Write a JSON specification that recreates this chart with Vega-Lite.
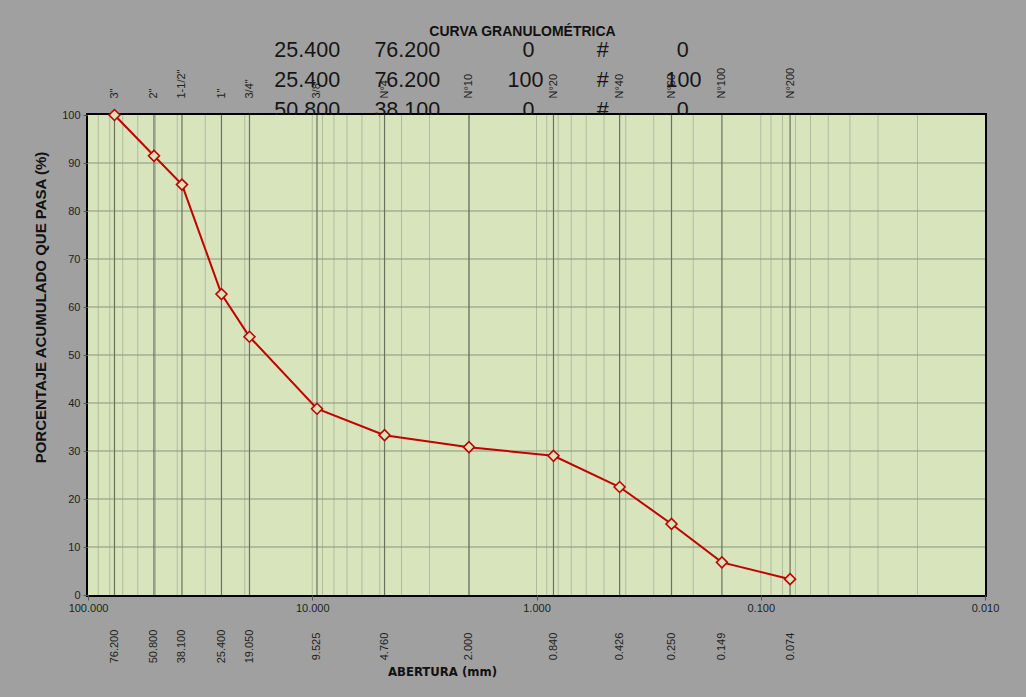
{
  "$schema": "https://vega.github.io/schema/vega-lite/v6.json",
  "width": 897,
  "height": 480,
  "autosize": {"type": "none"},
  "padding": {"left": 88, "top": 115, "right": 41, "bottom": 102},
  "background": "#a0a0a0",
  "view": {"stroke": "#000000", "strokeWidth": 4},
  "config": {"font": "Liberation Sans"},
  "datasets": {
    "sieves": [
      {"tamiz": "3\"", "abertura": 76.2, "pasa": 100},
      {"tamiz": "2\"", "abertura": 50.8, "pasa": 91.5},
      {"tamiz": "1-1/2\"", "abertura": 38.1, "pasa": 85.5},
      {"tamiz": "1\"", "abertura": 25.4, "pasa": 62.7},
      {"tamiz": "3/4\"", "abertura": 19.05, "pasa": 53.8},
      {"tamiz": "3/8\"", "abertura": 9.525, "pasa": 38.8},
      {"tamiz": "N°4", "abertura": 4.76, "pasa": 33.3},
      {"tamiz": "N°10", "abertura": 2.0, "pasa": 30.8},
      {"tamiz": "N°20", "abertura": 0.84, "pasa": 29.0},
      {"tamiz": "N°40", "abertura": 0.426, "pasa": 22.5},
      {"tamiz": "N°60", "abertura": 0.25, "pasa": 14.8},
      {"tamiz": "N°100", "abertura": 0.149, "pasa": 6.8},
      {"tamiz": "N°200", "abertura": 0.074, "pasa": 3.3}
    ],
    "minor": [
      {"d": 90}, {"d": 80}, {"d": 70}, {"d": 60}, {"d": 50}, {"d": 40}, {"d": 30}, {"d": 20}, {"d": 10},
      {"d": 9}, {"d": 8}, {"d": 7}, {"d": 6}, {"d": 5}, {"d": 4}, {"d": 3}, {"d": 2}, {"d": 1},
      {"d": 0.9}, {"d": 0.8}, {"d": 0.7}, {"d": 0.6}, {"d": 0.5}, {"d": 0.4}, {"d": 0.3}, {"d": 0.2}, {"d": 0.1},
      {"d": 0.09}, {"d": 0.08}, {"d": 0.07}, {"d": 0.06}, {"d": 0.05}, {"d": 0.04}, {"d": 0.03}, {"d": 0.02}
    ],
    "hgrid": [
      {"p": 10}, {"p": 20}, {"p": 30}, {"p": 40}, {"p": 50}, {"p": 60}, {"p": 70}, {"p": 80}, {"p": 90}
    ],
    "overlap": [
      {"t": "25.400", "x": 10.53, "y": 113.3},
      {"t": "76.200", "x": 3.77, "y": 113.3},
      {"t": "0", "x": 1.086, "y": 113.3},
      {"t": "#", "x": 0.507, "y": 113.3},
      {"t": "0", "x": 0.223, "y": 113.3},
      {"t": "25.400", "x": 10.53, "y": 107.1},
      {"t": "76.200", "x": 3.77, "y": 107.1},
      {"t": "100", "x": 1.12, "y": 107.1},
      {"t": "#", "x": 0.507, "y": 107.1},
      {"t": "100", "x": 0.221, "y": 107.1},
      {"t": "50.800", "x": 10.53, "y": 100.9},
      {"t": "38.100", "x": 3.77, "y": 100.9},
      {"t": "0", "x": 1.086, "y": 100.9},
      {"t": "#", "x": 0.507, "y": 100.9},
      {"t": "0", "x": 0.223, "y": 100.9}
    ]
  },
  "resolve": {"axis": {"x": "independent", "y": "independent"}},
  "layer": [
    {
      "data": {"name": "overlap"},
      "mark": {"type": "text", "fontSize": 21.5, "font": "Liberation Sans", "color": "#151515", "baseline": "middle", "align": "center"},
      "encoding": {
        "x": {"field": "x", "type": "quantitative", "scale": {"type": "log", "domain": [100, 0.01], "nice": false, "zero": false}, "axis": null},
        "y": {"field": "y", "type": "quantitative", "scale": {"domain": [0, 100], "nice": false, "zero": false}, "axis": null},
        "text": {"field": "t"}
      }
    },
    {
      "data": {"values": [{}]},
      "mark": {"type": "rect", "fill": "#d8e4bc"},
      "encoding": {
        "x": {"datum": 100, "type": "quantitative", "scale": {"type": "log", "domain": [100, 0.01], "nice": false, "zero": false},
          "axis": {"orient": "bottom", "values": [100, 10, 1, 0.1, 0.01], "format": ".3f", "labelFlush": false, "labelOverlap": false,
            "labelFontSize": 11, "labelColor": "#222222", "tickSize": 5, "tickColor": "#555555", "labelPadding": 2,
            "domain": false, "grid": false, "title": null}},
        "x2": {"datum": 0.01},
        "y": {"datum": 0, "type": "quantitative", "scale": {"domain": [0, 100], "nice": false, "zero": false},
          "axis": {"orient": "left", "values": [0, 10, 20, 30, 40, 50, 60, 70, 80, 90, 100], "title": "PORCENTAJE ACUMULADO QUE PASA (%)",
            "titleX": -48, "titleY": 192, "titleAngle": -90, "titleAlign": "center", "titleBaseline": "middle",
            "titleFontSize": 15, "titleFontWeight": "bold", "titleColor": "#111111",
            "labelFontSize": 11, "labelColor": "#222222", "tickSize": 5, "tickColor": "#555555", "labelPadding": 3,
            "domain": false, "grid": false, "labelFlush": false, "labelOverlap": false}},
        "y2": {"datum": 100}
      }
    },
    {
      "data": {"name": "minor"},
      "mark": {"type": "rule", "stroke": "#b2bba2", "strokeWidth": 1},
      "encoding": {
        "x": {"field": "d", "type": "quantitative", "scale": {"type": "log", "domain": [100, 0.01], "nice": false, "zero": false}, "axis": null}
      }
    },
    {
      "data": {"name": "hgrid"},
      "mark": {"type": "rule", "stroke": "#8a9480", "strokeWidth": 1},
      "encoding": {
        "y": {"field": "p", "type": "quantitative", "scale": {"domain": [0, 100], "nice": false, "zero": false}, "axis": null}
      }
    },
    {
      "data": {"name": "sieves"},
      "mark": {"type": "rule", "stroke": "#66725c", "strokeWidth": 1.2},
      "encoding": {
        "x": {"field": "abertura", "type": "quantitative", "scale": {"type": "log", "domain": [100, 0.01], "nice": false, "zero": false},
          "axis": {"orient": "top", "values": [76.2, 50.8, 38.1, 25.4, 19.05, 9.525, 4.76, 2, 0.84, 0.426, 0.25, 0.149, 0.074],
            "labelExpr": "datum.value == 76.2 ? '3\"' : datum.value == 50.8 ? '2\"' : datum.value == 38.1 ? '1-1/2\"' : datum.value == 25.4 ? '1\"' : datum.value == 19.05 ? '3/4\"' : datum.value == 9.525 ? '3/8\"' : datum.value == 4.76 ? 'N°4' : datum.value == 2 ? 'N°10' : datum.value == 0.84 ? 'N°20' : datum.value == 0.426 ? 'N°40' : datum.value == 0.25 ? 'N°60' : datum.value == 0.149 ? 'N°100' : 'N°200'",
            "labelAngle": -90, "labelAlign": "left", "labelBaseline": "middle", "labelPadding": 17, "ticks": false, "tickSize": 0,
            "domain": false, "grid": false, "labelFontSize": 11, "labelColor": "#222222", "labelFlush": false, "labelOverlap": false,
            "title": "CURVA GRANULOMÉTRICA", "titleX": 434, "titleY": -80, "titleAlign": "center", "titleBaseline": "alphabetic",
            "titleAngle": 0, "titleFontSize": 14, "titleFontWeight": "bold", "titleColor": "#111111"}}
      }
    },
    {
      "data": {"name": "sieves"},
      "mark": {"type": "line", "color": "#c00000", "strokeWidth": 2,
        "point": {"shape": "diamond", "filled": true, "fill": "#d8e4bc", "stroke": "#c00000", "strokeWidth": 1.6, "size": 120}},
      "encoding": {
        "x": {"field": "abertura", "type": "quantitative", "scale": {"type": "log", "domain": [100, 0.01], "nice": false, "zero": false},
          "axis": {"orient": "bottom", "values": [76.2, 50.8, 38.1, 25.4, 19.05, 9.525, 4.76, 2, 0.84, 0.426, 0.25, 0.149, 0.074],
            "format": ".3f", "labelAngle": -90, "labelAlign": "center", "labelBaseline": "middle", "labelPadding": 51,
            "ticks": false, "tickSize": 0, "domain": false, "grid": false, "labelFontSize": 11, "labelColor": "#222222",
            "labelFlush": false, "labelOverlap": false,
            "title": "ABERTURA (mm)", "titleX": 354, "titleY": 80, "titleAlign": "center", "titleBaseline": "alphabetic",
            "titleFont": "Liberation Sans Narrow, DejaVu Sans Condensed, sans-serif", "titleFontSize": 13, "titleFontWeight": "bold", "titleColor": "#111111"}},
        "y": {"field": "pasa", "type": "quantitative", "scale": {"domain": [0, 100], "nice": false, "zero": false}, "axis": null}
      }
    }
  ]
}
